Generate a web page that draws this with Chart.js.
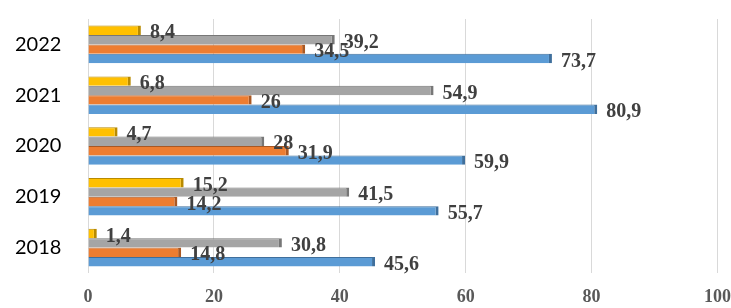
<!DOCTYPE html>
<html>
<head>
<meta charset="utf-8">
<script src="https://cdn.jsdelivr.net/npm/chart.js@4/dist/chart.umd.min.js"></script>
<style>
  html, body { margin: 0; padding: 0; background: #fff; }
  #wrap { width: 731px; height: 308px; }
</style>
</head>
<body>
<div id="wrap"><canvas id="chart"></canvas></div>
<script>
// categories top to bottom, as in the picture
const years = ['2022', '2021', '2020', '2019', '2018'];

// series, one per bar colour (top bar of each group first)
const yellowVals = [8.4, 6.8, 4.7, 15.2, 1.4];
const grayVals   = [39.2, 54.9, 28, 41.5, 30.8];
const orangeVals = [34.5, 26, 31.9, 14.2, 14.8];
const blueVals   = [73.7, 80.9, 59.9, 55.7, 45.6];

const xTicks = [0, 20, 40, 60, 80, 100];

function series(label, data, fill, edge) {
  return {
    label, data,
    backgroundColor: fill,
    borderColor: edge,
    borderWidth: { top: 1, bottom: 0, right: 3, left: 0 },
    borderSkipped: 'start',
    barPercentage: 1.0,
    categoryPercentage: 0.74
  };
}

const datasets = [
  series('Ряд 4', yellowVals, '#FFC000', '#B88A00'),
  series('Ряд 3', grayVals,   '#A5A5A5', '#777777'),
  series('Ряд 2', orangeVals, '#ED7D31', '#A95823'),
  series('Ряд 1', blueVals,   '#5B9BD5', '#3F6F9C')
];

// value labels with a comma as decimal mark, drawn right of each bar end
const valueLabels = {
  id: 'valueLabels',
  afterDatasetsDraw(chart) {
    const ctx = chart.ctx;
    ctx.save();
    ctx.font = 'bold 20px "Liberation Serif", "Times New Roman", serif';
    ctx.fillStyle = '#404040';
    ctx.textAlign = 'left';
    ctx.textBaseline = 'middle';
    chart.data.datasets.forEach((ds, i) => {
      chart.getDatasetMeta(i).data.forEach((bar, j) => {
        const txt = String(ds.data[j]).replace('.', ',');
        ctx.fillText(txt, bar.x + 9, bar.y + 3);
      });
    });
    ctx.restore();
  }
};

new Chart(document.getElementById('chart'), {
  type: 'bar',
  data: { labels: years, datasets },
  plugins: [valueLabels],
  options: {
    indexAxis: 'y',
    responsive: true,
    maintainAspectRatio: false,
    animation: false,
    layout: { padding: { top: 19, right: 0, left: 15, bottom: 0 } },
    scales: {
      x: {
        min: 0,
        max: 100,
        afterBuildTicks(scale) {
          scale.ticks = xTicks.map(v => ({ value: v }));
        },
        grid: { color: '#D9D9D9', lineWidth: 1, drawTicks: false },
        border: { display: false },
        ticks: {
          color: '#595959',
          padding: 0,
          font: { family: '"Liberation Serif", "Times New Roman", serif', size: 18, weight: 'bold', lineHeight: 2.7 }
        },
        afterFit(scale) { scale.height = 35; }
      },
      y: {
        grid: { display: false, drawTicks: false },
        border: { display: false },
        ticks: {
          color: '#000000',
          padding: 0,
          crossAlign: 'far',
          font: { family: 'Lato, "Open Sans", sans-serif', size: 20 }
        },
        afterFit(scale) { scale.width = 73; }
      }
    },
    plugins: {
      legend: { display: false },
      tooltip: { enabled: false }
    }
  }
});
</script>
</body>
</html>
